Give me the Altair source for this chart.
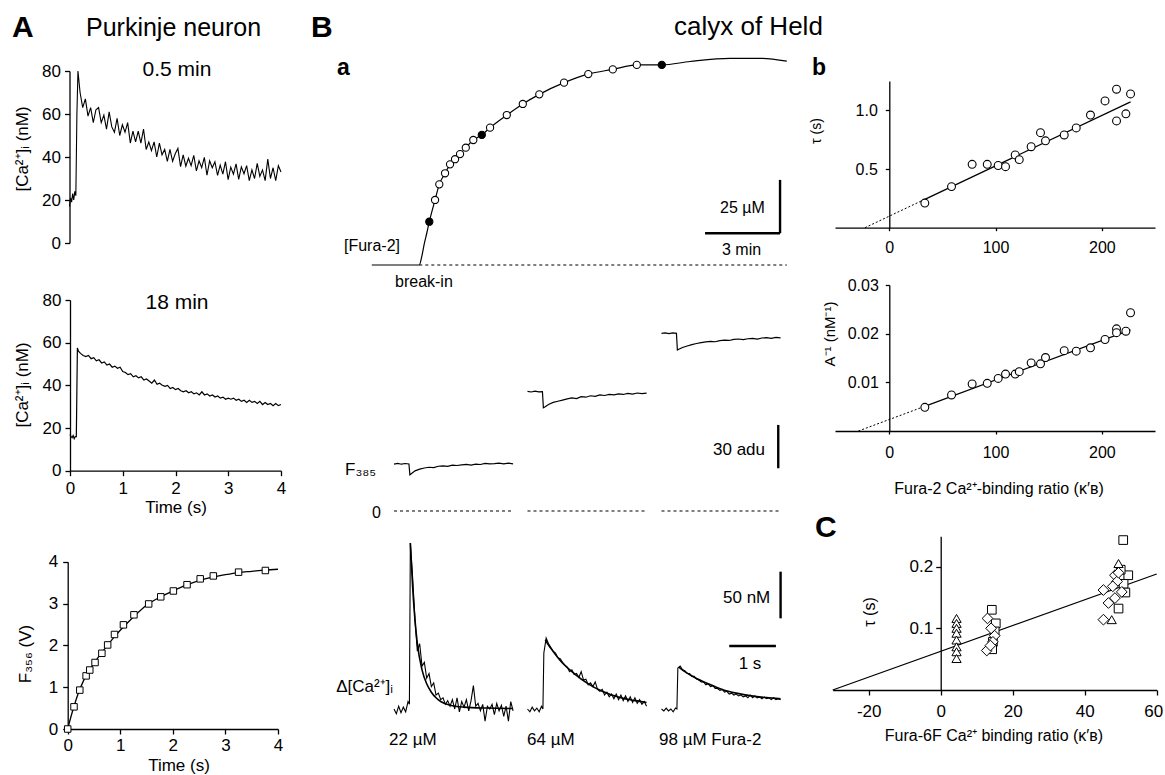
import altair as alt
import pandas as pd

W, H = 1165, 775
FONT = "Liberation Sans"
INK = "black"

# ---------------- data ----------------
# Panel A: Purkinje neuron [Ca2+]i transients (nM) at 0.5 min and 18 min
PK_T_EARLY = [0.0, 0.02, 0.04, 0.06, 0.08, 0.10, 0.12, 0.14, 0.16]
PK05_EARLY = [17, 21, 19, 23, 20, 24, 22, 60, 80]
PK05_DECAY = [70, 63, 67, 59, 63, 56, 62, 63, 56, 59.5, 53, 61, 54, 51.5, 58, 50, 55, 51.5,
              56, 46.5, 52, 47, 52, 46.5, 53, 43.5, 47, 43, 47, 40, 46.5, 41, 43.5, 38, 43.5,
              38, 41.5, 44, 35.5, 41, 35.7, 39.4, 36, 40.8, 33.5, 38.2, 35, 39.8, 31.5, 38.2,
              35, 37.8, 31.5, 36.2, 32, 37.8, 29.5, 35.3, 32, 36.8, 29.6, 35.4, 32.2, 36, 29,
              34, 30, 37, 31, 34, 29, 39, 30, 35, 29, 36, 33]
PK18_EARLY = [17, 16, 15.5, 16.5, 15, 16, 16, 57.5, 56]
PK18_DECAY = [55, 54, 53.5, 54, 52.5, 53, 51.5, 52, 50.5, 51, 49.5, 50, 48.5, 49, 48, 48.5,
              46.5, 46, 45, 45.5, 44, 44.5, 43.5, 44, 42.5, 43, 42, 41, 42.5, 40.5, 41, 40,
              39.5, 40, 38.5, 39, 38, 38.5, 37.5, 37, 37.5, 36.5, 37, 36, 36.5, 35.5, 37, 35.5,
              36, 35, 35.5, 34.5, 35, 34, 34.5, 33.5, 34, 33.5, 34, 33, 33.5, 32.5, 33, 32,
              33, 32, 32.5, 31.5, 32.5, 31, 32, 31, 31.5, 30.5, 31.5, 30.5, 31]
PK_T_DECAY = [round(0.20 + 0.05 * i, 2) for i in range(len(PK05_DECAY))]

# Panel A bottom: F356 (V) loading, squares and fitted curve
SQ_T = [0, 0.12, 0.23, 0.35, 0.42, 0.52, 0.65, 0.76, 0.89, 1.06, 1.26, 1.54, 1.77, 2.01,
        2.27, 2.52, 2.77, 3.25, 3.76]
SQ_F = [0, 0.53, 0.93, 1.27, 1.41, 1.59, 1.81, 2.01, 2.26, 2.49, 2.73, 2.99, 3.16, 3.30,
        3.45, 3.59, 3.66, 3.75, 3.79]
F356_FIT_T = [0, 0.05, 0.1, 0.2, 0.3, 0.4, 0.5, 0.6, 0.75, 0.9, 1.0, 1.25, 1.5, 1.75, 2.0,
              2.25, 2.5, 2.75, 3.0, 3.25, 3.5, 3.75, 4.0]
F356_FIT = [0, 0.24, 0.46, 0.85, 1.15, 1.38, 1.57, 1.75, 1.99, 2.22, 2.36, 2.68, 2.96, 3.15,
            3.3, 3.44, 3.55, 3.63, 3.69, 3.74, 3.77, 3.8, 3.82]

# Panel B a: Fura-2 loading (min, uM)
LOAD_T = [0.4, 0.63, 0.8, 1.03, 1.23, 1.43, 1.63, 1.86, 2.16, 2.5, 2.83, 3.5, 4.14, 4.8,
          5.79, 6.76, 7.74, 8.7, 9.7]
LOAD_C = [20.3, 30.5, 37.8, 43, 47.2, 49.6, 52, 55, 58.6, 61, 64.4, 70.3, 75.5, 80, 85.5,
          89.5, 91.7, 93.8, 93.8]
LOAD_FILLED = [True, False, False, False, False, False, False, False, False, True, False,
               False, False, False, False, False, False, False, True]
CURVE_HEAD_T = [-1.9, 0, 0.1, 0.2, 0.3]
CURVE_HEAD_C = [0, 0, 4, 10, 15]
CURVE_TAIL_T = [10.83, 12.43, 13.63, 14.7]
CURVE_TAIL_C = [95.4, 96.9, 96.9, 95.6]

# F385 traces (adu) for 22, 64, 98 uM Fura-2
F_T = [0, 0.08, 0.16, 0.24, 0.32, 0.34, 0.37, 0.45, 0.55, 0.65, 0.75, 0.85, 0.95, 1.05,
       1.15, 1.25, 1.35, 1.45, 1.55, 1.65, 1.75, 1.85, 1.95, 2.05, 2.15, 2.25, 2.35, 2.45, 2.55]
F385 = [
    [32.5, 33, 32.4, 32.9, 32.6, 25, 25.8, 27.8, 29, 29.8, 30.3, 30.1, 31, 31.3, 30.9, 31.7,
     31.5, 32, 32.3, 31.8, 32.5, 32.2, 33, 32.6, 32.8, 33.2, 32.7, 33.1, 32.6],
    [82.8, 82.4, 83, 82.5, 82.7, 71.5, 72, 73.8, 75.2, 76, 76.8, 77.6, 78.3, 77.9, 79.2, 78.8,
     79.8, 79.4, 80.4, 80, 80.8, 80.4, 81.1, 80.7, 81.4, 81, 81.7, 81.3, 81.6],
    [123, 123.4, 122.8, 123.3, 123, 111.5, 112, 113.2, 114.3, 115.2, 116, 116.6, 117.1, 117.5,
     117.2, 118, 118.4, 118.1, 118.8, 119.1, 118.7, 119.3, 119.6, 119.1, 119.8, 120.1, 119.6,
     120.2, 119.9],
]

# Delta [Ca2+]i traces (nM)
CA_T_EARLY = [0, 0.05, 0.1, 0.15, 0.2, 0.25, 0.3, 0.33]
CA = [
    [0, -5, 3, -4, 2, -3, 8, 5,
     178, 140, 95, 62, 70, 46, 50, 33, 38, 24, 28, 15, 17, 10, 12, 5, 9, 3, 10, 0, 12, -3, 8,
     2, 10, -2, 9, 25, 3, 6, -2, 5, -13, 3, 0, 5, -6, 6, -2, 4, -8, 3, -13, 8, -2],
    [0, -3, 2, -2, 1, -3, 3, 0,
     60, 76, 70, 66, 62, 60, 55, 54, 50, 47, 45, 40, 42, 37, 38, 34, 40, 31, 32, 26, 28, 24,
     29, 21, 19, 21, 15, 18, 13, 16, 11, 16, 10, 15, 9, 14, 8, 13, 7, 12, 6, 10, 5, 8, 3],
    [0, -2, 1, -2, 0, -3, 1, 0,
     44, 46, 42, 41, 38, 38, 35, 35, 32, 31, 29, 29, 26, 27, 24, 25, 22, 22, 20, 21, 18, 19,
     16, 17, 15, 16, 14, 15, 13, 14, 12, 15, 12, 14, 12, 13, 11, 13, 11, 12, 10, 12, 10, 11, 10],
]
CA_T = CA_T_EARLY + [round(0.35 + 0.05 * i, 2) for i in range(45)]
CA_FIT_T = [
    [0.35, 0.4, 0.45, 0.5, 0.6, 0.7, 0.8, 0.9, 1.0, 1.2, 1.5, 2.0, 2.55],
    [0.38, 0.5, 0.7, 1.0, 1.3, 1.6, 2.0, 2.3, 2.55],
    [0.37, 0.5, 0.7, 1.0, 1.3, 1.6, 2.0, 2.3, 2.55],
]
CA_FIT = [
    [178, 130, 95, 70, 42, 27, 18, 12, 8, 4, 2, 1, 0.5],
    [74, 65, 52, 38, 27, 19, 12, 9, 7],
    [45, 40, 34, 27, 21, 17, 13.5, 12, 11],
]

# Panel B b: tau (s) and A^-1 (nM^-1) vs Fura-2 binding ratio
B_K = [33.5, 58.6, 78, 92.2, 102.5, 109.4, 118.5, 122.3, 133.5, 142.3, 147, 164.6, 175.9,
       189.3, 203, 213.8, 213.8, 222.6, 227]
B_TAU = [0.21, 0.35, 0.54, 0.54, 0.53, 0.52, 0.62, 0.58, 0.69, 0.81, 0.74, 0.79, 0.85, 0.96,
         1.08, 1.18, 0.91, 0.97, 1.14]
B_AINV = [0.00486, 0.0074, 0.00966, 0.0098, 0.0108, 0.0117, 0.0117, 0.0122, 0.014, 0.0138,
          0.0151, 0.0165, 0.0164, 0.0171, 0.0188, 0.021, 0.0202, 0.0205, 0.0243]
TAU_FIT_DOT = ([-22.8, 30], [0, 0.227])
TAU_FIT = ([30, 227], [0.227, 1.072])
AINV_FIT_DOT = ([-29, 34], [0, 0.00512])
AINV_FIT = ([34, 227], [0.00512, 0.0208])

# Panel C: tau vs Fura-6F binding ratio
C_SQ_K = [14.2, 15.3, 15.0, 14.5, 14.3, 50.7, 52.1, 49.4, 50.8, 51.3, 50.0]
C_SQ_T = [0.13, 0.108, 0.095, 0.078, 0.066, 0.243, 0.186, 0.132, 0.172, 0.158, 0.195]
C_TRI_K = [4.4, 4.4, 4.4, 4.4, 4.4, 4.4, 4.4, 4.4, 49.4, 47.5]
C_TRI_T = [0.116, 0.108, 0.100, 0.092, 0.081, 0.070, 0.062, 0.051, 0.205, 0.114]
C_DIA_K = [13.0, 14.0, 15.0, 14.5, 12.8, 13.8, 45.2, 46.6, 45.2, 48.4, 49.0, 48.4, 50.3,
           49.4, 47.8]
C_DIA_T = [0.116, 0.100, 0.088, 0.078, 0.064, 0.072, 0.162, 0.141, 0.114, 0.186, 0.176,
           0.149, 0.159, 0.19, 0.168]
C_FIT = ([-30, 60], [0, 0.188])

# text labels: text, x, y, size, weight, align, angle
LABELS = [
    ("A", 12, 37, 30, "bold", "left", 0),
    ("Purkinje neuron", 86, 36, 25, "normal", "left", 0),
    ("B", 311, 37, 30, "bold", "left", 0),
    ("calyx of Held", 674, 35, 26, "normal", "left", 0),
    ("0.5 min", 177, 76, 21, "normal", "center", 0),
    ("18 min", 177, 309, 21, "normal", "center", 0),
    ("[Ca²⁺]ᵢ (nM)", 23, 149, 17, "normal", "center", 270),
    ("[Ca²⁺]ᵢ (nM)", 23, 385, 17, "normal", "center", 270),
    ("Time (s)", 176, 513, 17, "normal", "center", 0),
    ("F₃₅₆ (V)", 26, 654, 17, "normal", "center", 270),
    ("Time (s)", 179, 771, 17, "normal", "center", 0),
    ("a", 337, 75, 23, "bold", "left", 0),
    ("[Fura-2]", 400, 251, 16, "normal", "right", 0),
    ("break-in", 395, 287, 16, "normal", "left", 0),
    ("25 µM", 720, 213, 16, "normal", "left", 0),
    ("3 min", 722, 255, 16, "normal", "left", 0),
    ("F₃₈₅", 345, 475, 17, "normal", "left", 0),
    ("0", 381, 518, 16, "normal", "right", 0),
    ("30 adu", 713, 455, 17, "normal", "left", 0),
    ("50 nM", 723, 603, 17, "normal", "left", 0),
    ("1 s", 750, 669, 17, "normal", "center", 0),
    ("Δ[Ca²⁺]ᵢ", 393, 692, 17, "normal", "right", 0),
    ("22 µM", 389, 745, 17, "normal", "left", 0),
    ("64 µM", 527, 745, 17, "normal", "left", 0),
    ("98 µM Fura-2", 659, 745, 17, "normal", "left", 0),
    ("b", 812, 75, 23, "bold", "left", 0),
    ("τ (s)", 817, 131, 14, "normal", "center", 270),
    ("A⁻¹ (nM⁻¹)", 830, 334, 15, "normal", "center", 270),
    ("Fura-2 Ca²⁺-binding ratio (κ′ʙ)", 999, 494, 16, "normal", "center", 0),
    ("C", 815, 537, 30, "bold", "left", 0),
    ("τ (s)", 870, 612, 16, "normal", "center", 270),
    ("Fura-6F Ca²⁺ binding ratio (κ′ʙ)", 994, 741, 16, "normal", "center", 0),
]


# ---------------- helpers ----------------
def sc(domain, r0, r1):
    return alt.Scale(domain=domain, range=[r0, r1], nice=False, zero=False)


def _axis(orient, offset, values, fmt, size, tick, pad, flush):
    kw = dict(orient=orient, offset=offset, values=values, title=None, grid=False,
              domainColor=INK, domainWidth=1.3, tickColor=INK, tickWidth=1.3, tickSize=tick,
              labelFont=FONT, labelFontSize=size, labelColor=INK, labelPadding=pad,
              labelFlush=flush, labelOverlap=False,
              labelExpr="replace(datum.label, '\u2212', '-')")
    if flush:
        kw["labelFlushOffset"] = 6
    if fmt:
        kw["format"] = fmt
    return alt.Axis(**kw)


def xaxis(ypix, values, fmt=None, size=17, tick=5, pad=5, flush=False):
    return _axis("bottom", ypix - H, values, fmt, size, tick, pad, flush)


def yaxis(xpix, values, fmt=None, size=17, tick=5, pad=4):
    return _axis("left", -xpix, values, fmt, size, tick, pad, False)


def line(xv, yv, xs, ys, xax=None, yax=None, width=1.1, dash=None, interp="linear"):
    df = pd.DataFrame({"x": xv, "y": yv, "o": list(range(len(xv)))})
    mk = dict(color=INK, strokeWidth=width, interpolate=interp)
    if dash:
        mk["strokeDash"] = dash
    return alt.Chart(df).mark_line(**mk).encode(
        x=alt.X("x:Q", scale=xs, axis=xax),
        y=alt.Y("y:Q", scale=ys, axis=yax),
        order="o:Q",
    )


def pts(xv, yv, xs, ys, xax=None, yax=None, shape="circle", size=50, fill="white", sw=1.0):
    df = pd.DataFrame({"x": xv, "y": yv})
    return alt.Chart(df).mark_point(shape=shape, size=size, filled=True, fill=fill,
                                    stroke=INK, strokeWidth=sw, opacity=1).encode(
        x=alt.X("x:Q", scale=xs, axis=xax),
        y=alt.Y("y:Q", scale=ys, axis=yax),
    )


def rule(x1, x2, y1, y2, xs, ys, xax=None, yax=None, width=1.0, dash=None):
    df = pd.DataFrame({"x": [x1], "x2": [x2], "y": [y1], "y2": [y2]})
    mk = dict(color=INK, strokeWidth=width)
    if dash:
        mk["strokeDash"] = dash
    return alt.Chart(df).mark_rule(**mk).encode(
        x=alt.X("x:Q", scale=xs, axis=xax), x2="x2:Q",
        y=alt.Y("y:Q", scale=ys, axis=yax), y2="y2:Q",
    )


def txt(s, x, y, size, weight, align, angle):
    base = "middle" if angle else "alphabetic"
    return alt.Chart(pd.DataFrame({"s": [s]})).mark_text(
        font=FONT, fontSize=size, fontWeight=weight, align=align, baseline=base,
        angle=angle, color=INK).encode(x=alt.value(x), y=alt.value(y), text="s:N")


panels = []

# ---- A top ----
xs = sc([0, 4], 69.5, 281)
ys = sc([0, 80], 243, 71)
panels.append(alt.layer(
    line(PK_T_EARLY + PK_T_DECAY, PK05_EARLY + PK05_DECAY, xs, ys,
         xax=None, yax=yaxis(69.5, [0, 20, 40, 60, 80]), width=1.1),
))

# ---- A middle ----
xs = sc([0, 4], 70, 281)
ys = sc([0, 80], 470.7, 300)
panels.append(alt.layer(
    line(PK_T_EARLY + PK_T_DECAY, PK18_EARLY + PK18_DECAY, xs, ys,
         xax=xaxis(470.7, [0, 1, 2, 3, 4], pad=5), yax=yaxis(70, [0, 20, 40, 60, 80]),
         width=1.2),
))

# ---- A bottom ----
xs = sc([0, 4], 67.7, 278)
ys = sc([0, 4], 729, 561.7)
ax = dict(xax=xaxis(729, [0, 1, 2, 3, 4], pad=3), yax=yaxis(67.7, [0, 1, 2, 3, 4], pad=5))
panels.append(alt.layer(
    line(F356_FIT_T, F356_FIT, xs, ys, width=1.3, interp="monotone", **ax),
    pts(SQ_T, SQ_F, xs, ys, shape="square", size=42, sw=1.0, **ax),
))

# ---- B a: loading ----
xs = sc([-2, 15], 369.3, 794.3)
ys = sc([0, 100], 265, 51.7)
open_t = [t for t, f in zip(LOAD_T, LOAD_FILLED) if not f]
open_c = [c for c, f in zip(LOAD_C, LOAD_FILLED) if not f]
fill_t = [t for t, f in zip(LOAD_T, LOAD_FILLED) if f]
fill_c = [c for c, f in zip(LOAD_C, LOAD_FILLED) if f]
panels.append(alt.layer(
    rule(0, 14.7, 0, 0, xs, ys, width=1.0, dash=[3, 3]),
    line(CURVE_HEAD_T + LOAD_T + CURVE_TAIL_T, CURVE_HEAD_C + LOAD_C + CURVE_TAIL_C,
         xs, ys, width=1.2, interp="monotone"),
    pts(open_t, open_c, xs, ys, size=52, sw=1.1),
    pts(fill_t, fill_c, xs, ys, size=52, fill=INK, sw=1.1),
    rule(14.43, 14.43, 14.9, 14.9 + 25, xs, ys, width=2.4),
    rule(14.43 - 3, 14.43, 14.9, 14.9, xs, ys, width=2.4),
))

# ---- B a: F385 and Ca traces ----
PX_PER_S = 46.7
TRACE_X0 = [394, 527.5, 661.5]
for k in range(3):
    x0 = TRACE_X0[k]
    xs = sc([0, 2.55], x0, x0 + 2.55 * PX_PER_S)
    ysf = sc([0, 130], 511, 511 - 130 * 1.444)
    fl = [
        rule(0, 2.55, 0, 0, xs, ysf, width=1.0, dash=[3, 3]),
        line(F_T, F385[k], xs, ysf, width=1.2),
    ]
    if k == 2:
        fl.append(rule(2.5, 2.5, 29.6, 59.6, xs, ysf, width=2.4))
    panels.append(alt.layer(*fl))

    ysc = sc([-20, 180], 709 + 20 * 0.933, 709 - 180 * 0.933)
    cl = [
        line(CA_T, CA[k], xs, ysc, width=1.1),
        line(CA_FIT_T[k], CA_FIT[k], xs, ysc, width=1.6, interp="monotone"),
    ]
    if k == 2:
        cl.append(rule(2.55, 2.55, 97.2, 147.2, xs, ysc, width=2.4))
        cl.append(rule(1.45, 2.45, 67.5, 67.5, xs, ysc, width=2.4))
    panels.append(alt.layer(*cl))

# ---- B b top: tau ----
xs = sc([-51, 250], 835, 1155)
ys = sc([0, 1.25], 227.7, 81)
ax = dict(xax=xaxis(227.7, [0, 100, 200], size=16, tick=3, pad=9),
          yax=yaxis(889.3, [0.5, 1.0], fmt=".1f", size=16, tick=4, pad=8))
panels.append(alt.layer(
    line(TAU_FIT[0], TAU_FIT[1], xs, ys, width=1.3, **ax),
    line(TAU_FIT_DOT[0], TAU_FIT_DOT[1], xs, ys, width=1.0, dash=[2, 2], **ax),
    pts(B_K, B_TAU, xs, ys, size=62, sw=1.1, **ax),
))

# ---- B b bottom: A^-1 ----
ys = sc([0, 0.03], 431, 285)
ax = dict(xax=xaxis(431, [0, 100, 200], size=16, tick=3, pad=10),
          yax=yaxis(889.3, [0.01, 0.02, 0.03], fmt=".2f", size=16, tick=4, pad=7))
panels.append(alt.layer(
    line(AINV_FIT[0], AINV_FIT[1], xs, ys, width=1.3, **ax),
    line(AINV_FIT_DOT[0], AINV_FIT_DOT[1], xs, ys, width=1.0, dash=[2, 2], **ax),
    pts(B_K, B_AINV, xs, ys, size=62, sw=1.1, **ax),
))

# ---- C ----
xs = sc([-30, 60], 832.7, 1156.7)
ys = sc([0, 0.249], 690, 690 - 0.249 * 617)
ax = dict(xax=xaxis(690, [-20, 0, 20, 40, 60], size=17, tick=5, pad=8, flush=True),
          yax=yaxis(940.7, [0.1, 0.2], fmt=".1f", size=17, tick=5, pad=3))
panels.append(alt.layer(
    line(C_FIT[0], C_FIT[1], xs, ys, width=1.3, **ax),
    pts(C_SQ_K, C_SQ_T, xs, ys, shape="square", size=75, sw=1.0, **ax),
    pts(C_TRI_K, C_TRI_T, xs, ys, shape="triangle-up", size=85, sw=1.0, **ax),
    pts(C_DIA_K, C_DIA_T, xs, ys, shape="diamond", size=115, sw=1.0, **ax),
))

# ---- text ----
for lab in LABELS:
    panels.append(txt(*lab))

chart = alt.layer(*panels).resolve_scale(x="independent", y="independent").properties(
    width=W, height=H, padding=0, background="white",
    autosize=alt.AutoSizeParams(type="none"),
).configure_view(stroke=None)

chart.save("out.html", embed_options={"renderer": "svg", "actions": False})
